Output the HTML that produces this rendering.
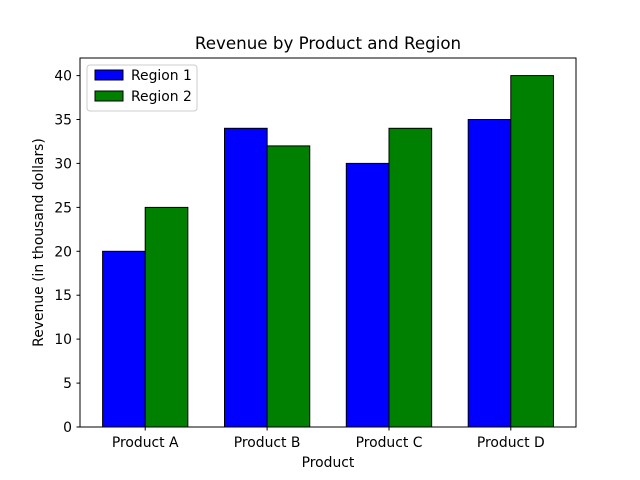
<!DOCTYPE html>
<html><head><meta charset="utf-8"><style>body{margin:0;background:#fff}svg{display:block}text{font-family:"DejaVu Sans","Liberation Sans",sans-serif;fill:#000}</style></head>
<body>
<svg width="640" height="480" viewBox="0 0 640 480" xmlns="http://www.w3.org/2000/svg">
<rect width="640" height="480" fill="#fff"/>
<g stroke="#000" stroke-width="1">
<rect x="102.6" y="251.3" width="42.65" height="175.7" fill="#0000ff"/>
<rect x="145.2" y="207.4" width="42.65" height="219.6" fill="#008000"/>
<rect x="224.5" y="128.3" width="42.65" height="298.7" fill="#0000ff"/>
<rect x="267.1" y="145.9" width="42.65" height="281.1" fill="#008000"/>
<rect x="346.3" y="163.4" width="42.65" height="263.6" fill="#0000ff"/>
<rect x="389.0" y="128.3" width="42.65" height="298.7" fill="#008000"/>
<rect x="468.2" y="119.5" width="42.65" height="307.5" fill="#0000ff"/>
<rect x="510.8" y="75.6" width="42.65" height="351.4" fill="#008000"/>
</g>
<rect x="80" y="58" width="496" height="369" fill="none" stroke="#000" stroke-width="1"/>
<g stroke="#000" stroke-width="1">
<line x1="145.2" y1="427" x2="145.2" y2="430.5"/>
<line x1="267.1" y1="427" x2="267.1" y2="430.5"/>
<line x1="389.0" y1="427" x2="389.0" y2="430.5"/>
<line x1="510.8" y1="427" x2="510.8" y2="430.5"/>
<line x1="76.5" y1="427" x2="80" y2="427"/>
<line x1="76.5" y1="383.1" x2="80" y2="383.1"/>
<line x1="76.5" y1="339.1" x2="80" y2="339.1"/>
<line x1="76.5" y1="295.2" x2="80" y2="295.2"/>
<line x1="76.5" y1="251.3" x2="80" y2="251.3"/>
<line x1="76.5" y1="207.4" x2="80" y2="207.4"/>
<line x1="76.5" y1="163.4" x2="80" y2="163.4"/>
<line x1="76.5" y1="119.5" x2="80" y2="119.5"/>
<line x1="76.5" y1="75.6" x2="80" y2="75.6"/>
</g>
<g font-size="13.9" text-anchor="end">
<text x="72" y="432">0</text>
<text x="72" y="388.1">5</text>
<text x="72" y="344.1">10</text>
<text x="72" y="300.2">15</text>
<text x="72" y="256.3">20</text>
<text x="72" y="212.4">25</text>
<text x="72" y="168.4">30</text>
<text x="72" y="124.5">35</text>
<text x="72" y="80.6">40</text>
</g>
<g font-size="13.9" text-anchor="middle">
<text x="145.2" y="447">Product A</text>
<text x="267.1" y="447">Product B</text>
<text x="389.0" y="447">Product C</text>
<text x="510.8" y="447">Product D</text>
<text x="328" y="467">Product</text>
<text x="43" y="242.5" transform="rotate(-90 43 242.5)">Revenue (in thousand dollars)</text>
</g>
<text x="328" y="49" font-size="16.7" text-anchor="middle">Revenue by Product and Region</text>
<rect x="87" y="65" width="110" height="46" rx="3" fill="#fff" fill-opacity="0.8" stroke="#ccc"/>
<rect x="95" y="70" width="28" height="10" fill="#0000ff" stroke="#000"/>
<text x="131" y="80" font-size="13.9">Region 1</text>
<rect x="95" y="91" width="28" height="10" fill="#008000" stroke="#000"/>
<text x="131" y="101" font-size="13.9">Region 2</text>
</svg>
</body></html>
